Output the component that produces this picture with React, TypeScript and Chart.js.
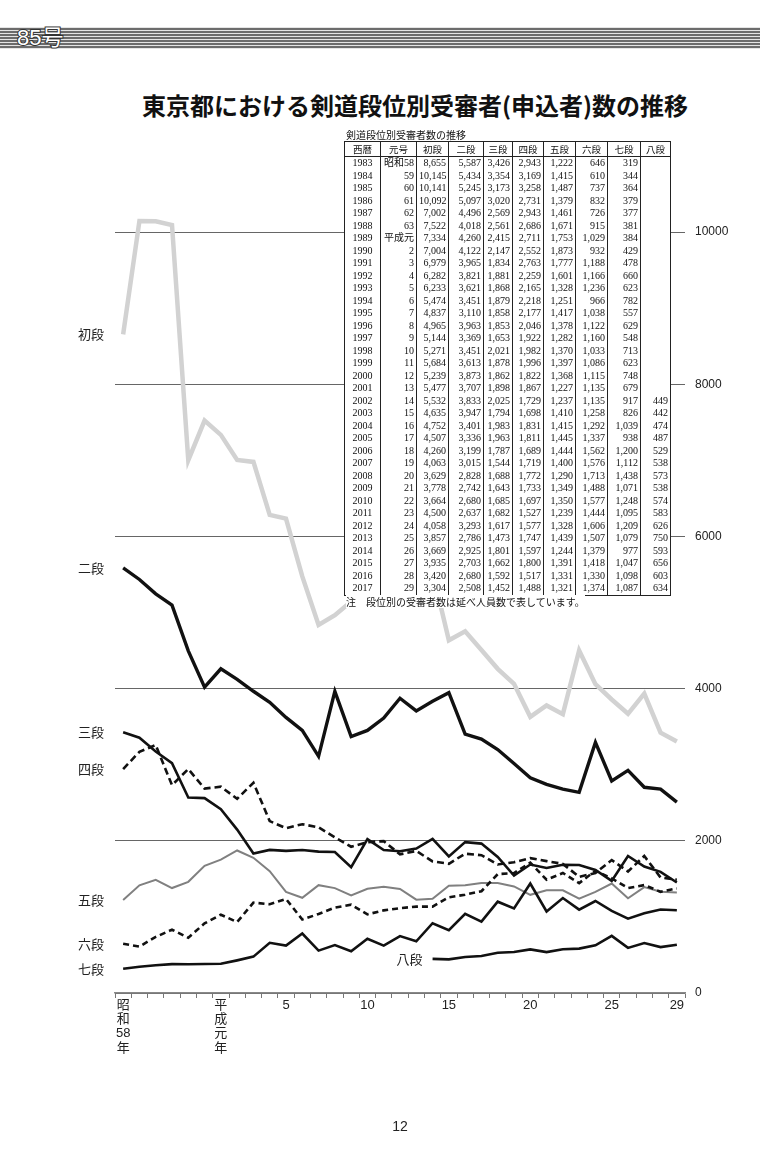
import React, { useEffect, useRef } from "react";
import { Chart, registerables } from "chart.js";
Chart.register(...registerables);

const years = [1983,1984,1985,1986,1987,1988,1989,1990,1991,1992,1993,1994,1995,1996,1997,1998,1999,2000,2001,2002,2003,2004,2005,2006,2007,2008,2009,2010,2011,2012,2013,2014,2015,2016,2017];
const eras = ["昭和58","59","60","61","62","63","平成元","2","3","4","5","6","7","8","9","10","11","12","13","14","15","16","17","18","19","20","21","22","23","24","25","26","27","28","29"];
const axisTickLabels: (string | string[])[] = [["昭","和","58","年"],"","","","","",["平","成","元","年"],"","","","5","","","","","10","","","","","15","","","","","20","","","","","25","","","","29"];

const shodan = [8655,10145,10141,10092,7002,7522,7334,7004,6979,6282,6233,5474,4837,4965,5144,5271,5684,5239,5477,5532,4635,4752,4507,4260,4063,3629,3778,3664,4500,4058,3857,3669,3935,3420,3304];
const nidan = [5587,5434,5245,5097,4496,4018,4260,4122,3965,3821,3621,3451,3110,3963,3369,3451,3613,3873,3707,3833,3947,3401,3336,3199,3015,2828,2742,2680,2637,3293,2786,2925,2703,2680,2508];
const sandan = [3426,3354,3173,3020,2569,2561,2415,2147,1834,1881,1868,1879,1858,1853,1653,2021,1878,1862,1898,2025,1794,1983,1963,1787,1544,1688,1643,1685,1682,1617,1473,1801,1662,1592,1452];
const yondan = [2943,3169,3258,2731,2943,2686,2711,2552,2763,2259,2165,2218,2177,2046,1922,1982,1996,1822,1867,1729,1698,1831,1811,1689,1719,1772,1733,1697,1527,1577,1747,1597,1800,1517,1488];
const godan = [1222,1415,1487,1379,1461,1671,1753,1873,1777,1601,1328,1251,1417,1378,1282,1370,1397,1368,1227,1237,1410,1415,1445,1444,1400,1290,1349,1350,1239,1328,1439,1244,1391,1331,1321];
const rokudan = [646,610,737,832,726,915,1029,932,1188,1166,1236,966,1038,1122,1160,1033,1086,1115,1135,1135,1258,1292,1337,1562,1576,1713,1488,1577,1444,1606,1507,1379,1418,1330,1374];
const nanadan = [319,344,364,379,377,381,384,429,478,660,623,782,557,629,548,713,623,748,679,917,826,1039,938,1200,1112,1438,1071,1248,1095,1209,1079,977,1047,1098,1087];
const hachidan: (number | null)[] = [null,null,null,null,null,null,null,null,null,null,null,null,null,null,null,null,null,null,null,449,442,474,487,529,538,573,538,574,583,626,750,593,656,603,634];

const seriesNames = ["初段","二段","三段","四段","五段","六段","七段","八段"];
const seriesValues: (number | null)[][] = [shodan, nidan, sandan, yondan, godan, rokudan, nanadan, hachidan];
const yTicks = [0, 2000, 4000, 6000, 8000, 10000];

const styles = [
  { color: "#d2d2d2", width: 4.5, dash: [] as number[], order: 10, side: "axis" },
  { color: "#111", width: 3.4, dash: [], order: 0, side: "axis" },
  { color: "#111", width: 2.6, dash: [], order: 0, side: "axis" },
  { color: "#111", width: 2.6, dash: [7, 4], order: 0, side: "axis" },
  { color: "#808080", width: 2, dash: [], order: 9, side: "axis" },
  { color: "#111", width: 2.6, dash: [6, 4], order: 0, side: "axis" },
  { color: "#111", width: 2.6, dash: [], order: 0, side: "axis" },
  { color: "#111", width: 2.6, dash: [], order: 0, side: "point" },
];

const fmt = (v: number | null) => (v == null ? "" : v.toLocaleString("en-US"));

const labelPlugin = {
  id: "seriesLabels",
  afterDatasetsDraw(chart: any) {
    const ctx = chart.ctx;
    const area = chart.chartArea;
    ctx.save();
    ctx.font = '13px "Noto Sans CJK JP", sans-serif';
    ctx.fillStyle = "#222";
    ctx.textBaseline = "middle";
    chart.data.datasets.forEach((ds: any, i: number) => {
      const meta = chart.getDatasetMeta(i);
      const idx = ds.data.findIndex((v: any) => v != null);
      const pt = meta.data[idx];
      if (!pt) return;
      if (ds.labelSide === "point") {
        ctx.textAlign = "right";
        ctx.fillText(ds.label, pt.x - 10, pt.y);
      } else {
        ctx.textAlign = "left";
        ctx.fillText(ds.label, area.left - 37, pt.y);
      }
    });
    ctx.restore();
  },
};

export default function App() {
  const ref = useRef<HTMLCanvasElement>(null);
  useEffect(() => {
    if (!ref.current) return;
    const chart = new Chart(ref.current, {
      type: "line",
      data: {
        labels: years.map(String),
        datasets: seriesValues.map((vals, i) => ({
          label: seriesNames[i],
          data: vals,
          borderColor: styles[i].color,
          borderWidth: styles[i].width,
          borderDash: styles[i].dash,
          order: styles[i].order,
          pointRadius: 0,
          tension: 0,
          fill: false,
          clip: false as any,
          spanGaps: false,
          labelSide: styles[i].side,
        })) as any,
      },
      options: {
        animation: false,
        responsive: false,
        events: [],
        layout: { padding: { left: 115, top: 232, right: 0, bottom: 79 } },
        plugins: { legend: { display: false }, tooltip: { enabled: false }, title: { display: false } },
        scales: {
          x: {
            type: "category",
            offset: true,
            grid: { offset: true, drawOnChartArea: false, drawTicks: true, tickLength: 5, color: "#777", lineWidth: 1 },
            border: { display: true, color: "#888", width: 1.5 },
            ticks: {
              autoSkip: false,
              maxRotation: 0,
              minRotation: 0,
              padding: 0,
              color: "#222",
              font: { family: '"Liberation Sans", "Noto Sans CJK JP", sans-serif', size: 13, lineHeight: 1.1 },
              callback: (_v: any, i: number) => axisTickLabels[i],
            },
            afterFit: (s: any) => { s.height = 90; },
          },
          y: {
            position: "right",
            min: 0,
            max: 10000,
            afterBuildTicks: (s: any) => { s.ticks = yTicks.map((v) => ({ value: v })); },
            grid: { drawTicks: false, color: "#666", lineWidth: 1 },
            border: { display: false },
            ticks: {
              padding: 10,
              color: "#222",
              font: { family: '"Liberation Sans", sans-serif', size: 12 },
              callback: (v: any) => String(v),
            },
            afterFit: (s: any) => { s.width = 75; },
          },
        },
      },
      plugins: [labelPlugin],
    });
    return () => chart.destroy();
  }, []);

  const cols = [36, 36, 32, 35, 29, 31, 32, 32, 33, 30];
  const headers = ["西暦", "元号", ...seriesNames];
  const cellBase: React.CSSProperties = {
    borderLeft: "1px solid #222",
    padding: "0 2px",
    height: 12.5,
    lineHeight: "12.5px",
    whiteSpace: "nowrap",
    overflow: "hidden",
  };

  return (
    <div style={{ position: "absolute", left: 0, top: 0, width: 760, height: 1162, background: "#fff", overflow: "hidden" }}>
      <div
        style={{
          position: "absolute", left: 0, top: 27, width: 760, height: 22,
          background: "repeating-linear-gradient(to bottom, #e4e4e4 0px, #e4e4e4 1px, #6c6c6c 1px, #6c6c6c 3px)",
        }}
      />
      <div
        style={{
          position: "absolute", left: 17, top: 24, fontSize: 22, lineHeight: "28px",
          fontFamily: '"Liberation Sans", "Noto Sans CJK JP", sans-serif', color: "#fff",
          WebkitTextStroke: "2px #333", paintOrder: "stroke fill" as any,
        }}
      >
        85号
      </div>
      <div
        style={{
          position: "absolute", left: 125, top: 89, width: 580, textAlign: "center",
          fontSize: 24, fontWeight: 700, lineHeight: "32px", color: "#111",
          fontFamily: '"Noto Sans CJK JP", sans-serif',
        }}
      >
        東京都における剣道段位別受審者(申込者)数の推移
      </div>
      <canvas ref={ref} width={760} height={1162} style={{ position: "absolute", left: 0, top: 0, width: 760, height: 1162 }} />
      <div
        style={{
          position: "absolute", left: 346, top: 128, fontSize: 10, lineHeight: "13px", color: "#111",
          fontFamily: '"Noto Sans CJK JP", sans-serif', background: "#fff",
        }}
      >
        剣道段位別受審者数の推移
      </div>
      <table
        style={{
          position: "absolute", left: 344, top: 141, width: 326, borderCollapse: "collapse",
          tableLayout: "fixed", border: "1px solid #222", background: "#fff",
          fontFamily: '"Liberation Serif", "Noto Sans CJK JP", serif', fontSize: 10, color: "#111",
        }}
      >
        <colgroup>
          {cols.map((w, i) => <col key={i} style={{ width: w }} />)}
        </colgroup>
        <thead>
          <tr>
            {headers.map((h, i) => (
              <th key={i} style={{ ...cellBase, height: 14, lineHeight: "14px", fontWeight: 400, textAlign: "center", borderBottom: "1px solid #222", fontFamily: '"Noto Sans CJK JP", serif', fontSize: 9.5 }}>
                {h}
              </th>
            ))}
          </tr>
        </thead>
        <tbody>
          {years.map((y, r) => (
            <tr key={y}>
              <td style={{ ...cellBase, textAlign: "center" }}>{y}</td>
              <td style={{ ...cellBase, textAlign: "right" }}>{eras[r]}</td>
              {seriesValues.map((vals, c) => (
                <td key={c} style={{ ...cellBase, textAlign: "right" }}>{fmt(vals[r])}</td>
              ))}
            </tr>
          ))}
        </tbody>
      </table>
      <div
        style={{
          position: "absolute", left: 346, top: 595, fontSize: 10, lineHeight: "13px", color: "#111",
          fontFamily: '"Noto Sans CJK JP", sans-serif', background: "#fff",
        }}
      >
        注　段位別の受審者数は延べ人員数で表しています。
      </div>
      <div
        style={{
          position: "absolute", left: 380, top: 1118, width: 40, textAlign: "center", fontSize: 14,
          fontFamily: '"Liberation Sans", sans-serif', color: "#222",
        }}
      >
        12
      </div>
    </div>
  );
}
